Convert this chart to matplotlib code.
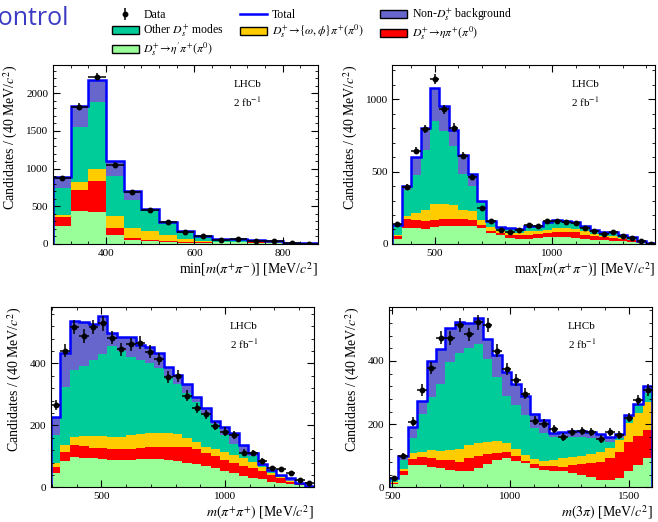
import numpy as np
import matplotlib
matplotlib.use('Agg')
import matplotlib.pyplot as plt
from matplotlib.patches import Patch
from matplotlib.lines import Line2D
from matplotlib.ticker import MultipleLocator

plt.rcParams['font.family'] = 'serif'
plt.rcParams['font.serif'] = ['Liberation Serif', 'DejaVu Serif']
plt.rcParams['mathtext.fontset'] = 'stix'

# colours
c_bkg = '#6666cc'
c_other = '#00cc99'
c_omphi = '#ffcc00'
c_eta = '#ff0000'
c_etap = '#99ff99'
c_total = '#0000ff'

# top left: min[m(pi+pi-)]
tl_edges = np.arange(280, 881, 40)
tl_data = [874, 1823, 2221, 1051, 693, 455, 287, 163, 102, 57, 71, 44, 35, 9, 5]
tl_total = [887, 1832, 2177, 1095, 698, 464, 287, 168, 100, 66, 70, 53, 44, 18, 9]
tl_other = [742, 1558, 1890, 896, 587, 440, 278, 160, 93, 60, 64, 48, 40, 15, 7]
tl_omphi = [388, 821, 998, 366, 212, 168, 115, 71, 35, 30, 30, 25, 20, 9, 4]
tl_eta = [353, 720, 839, 212, 80, 49, 35, 22, 20, 22, 24, 20, 16, 7, 3]
tl_etap = [234, 441, 424, 115, 57, 35, 26, 18, 18, 20, 22, 18, 15, 6, 2]

# top right: max[m(pi+pi-)]
tr_edges = np.arange(320, 1441, 40)
tr_data = [135, 392, 644, 794, 1138, 929, 803, 608, 461, 248, 156, 94, 80, 99,
           128, 122, 161, 161, 149, 144, 110, 92, 69, 80, 53, 41, 18, 2]
tr_total = [133, 401, 603, 803, 1073, 952, 787, 615, 484, 294, 161, 115, 108, 103,
            122, 126, 151, 167, 161, 154, 122, 99, 83, 80, 64, 46, 23, 7]
tr_other = [128, 374, 477, 649, 849, 780, 677, 482, 401, 282, 151, 110, 105, 99,
            115, 122, 144, 156, 156, 144, 110, 92, 76, 76, 57, 41, 18, 5]
tr_omphi = [64, 195, 213, 232, 275, 275, 266, 236, 225, 167, 115, 87, 76, 76,
            87, 92, 99, 110, 110, 105, 87, 71, 57, 53, 41, 30, 16, 5]
tr_eta = [53, 174, 167, 156, 167, 174, 174, 172, 167, 133, 92, 76, 60, 60,
          64, 71, 76, 80, 80, 80, 64, 53, 46, 41, 34, 25, 14, 5]
tr_etap = [37, 110, 110, 103, 115, 122, 122, 122, 122, 110, 76, 60, 41, 37,
           37, 41, 46, 46, 46, 41, 37, 30, 25, 23, 18, 14, 7, 2]

# bottom left: m(pi+pi+)
bl_edges = np.linspace(296, 1360, 29)
bl_data = [266, 440, 516, 488, 516, 529, 483, 445, 462, 467, 438, 414, 357, 359,
           296, 255, 235, 198, 180, 169, 112, 110, 86, 61, 58, 45, 24, 15]
bl_total = [226, 432, 537, 532, 526, 553, 499, 484, 484, 459, 452, 432, 389, 362,
            333, 292, 255, 215, 196, 174, 137, 110, 75, 56, 40, 29, 13, 4]
bl_other = [169, 325, 379, 391, 411, 430, 456, 440, 422, 411, 400, 385, 360, 335,
            305, 275, 240, 205, 170, 140, 115, 100, 70, 48, 35, 20, 13, 4]
bl_omphi = [77, 137, 163, 167, 167, 167, 163, 163, 169, 172, 174, 174, 176, 171,
            160, 147, 131, 123, 115, 104, 94, 83, 65, 46, 33, 20, 12, 4]
bl_eta = [67, 115, 137, 134, 128, 126, 124, 123, 124, 128, 131, 131, 131, 131,
          129, 123, 112, 102, 88, 80, 70, 61, 51, 40, 31, 18, 10, 4]
bl_etap = [47, 86, 99, 96, 94, 90, 88, 88, 88, 90, 91, 90, 88, 85,
           80, 75, 70, 61, 51, 45, 37, 31, 26, 18, 15, 10, 6, 3]

# bottom right: m(3pi)
br_edges = np.linspace(486, 1600, 29)
br_data = [28, 100, 208, 308, 377, 474, 472, 514, 484, 522, 514, 432, 374, 340,
           296, 211, 201, 185, 160, 176, 178, 176, 153, 176, 166, 221, 277, 308]
br_total = [28, 100, 192, 274, 401, 437, 506, 525, 519, 535, 469, 419, 366, 326,
            289, 231, 213, 173, 176, 178, 179, 176, 168, 160, 168, 229, 264, 321]
br_other = [25, 87, 155, 232, 287, 326, 398, 426, 440, 453, 406, 348, 289, 261,
            229, 187, 171, 160, 160, 160, 160, 157, 153, 145, 155, 224, 261, 300]
br_omphi = [17, 58, 108, 111, 118, 115, 118, 120, 134, 141, 145, 148, 139, 120,
            102, 90, 84, 88, 92, 97, 100, 106, 113, 123, 150, 203, 234, 271]
br_eta = [15, 50, 90, 97, 92, 87, 87, 81, 92, 100, 106, 110, 111, 100,
          83, 75, 68, 66, 65, 71, 73, 76, 81, 92, 113, 145, 164, 182]
br_etap = [11, 39, 71, 69, 63, 60, 55, 52, 50, 60, 74, 87, 94, 84,
           76, 62, 55, 50, 50, 46, 39, 34, 23, 23, 28, 50, 69, 92]

ylab = r'Candidates / (40 MeV/$c^2$)'


def panel(ax, edges, data, total, other, omphi, eta, etap, xlab, ymax,
          xmaj, xmin, ymaj, ymin):
    for top, col in [(total, c_bkg), (other, c_other), (omphi, c_omphi),
                     (eta, c_eta), (etap, c_etap)]:
        ax.stairs(top, edges, baseline=0, fill=True, color=col, lw=0)
    ax.stairs(total, edges, baseline=0, color=c_total, lw=1.8)
    data = np.array(data, dtype=float)
    ctr = 0.5 * (edges[1:] + edges[:-1])
    half = 0.5 * (edges[1:] - edges[:-1])
    ax.errorbar(ctr, data, xerr=half, yerr=np.sqrt(data), fmt='o', color='k',
                ms=3.2, elinewidth=1.1, capsize=0)
    ax.set_xlim(edges[0], edges[-1])
    ax.set_ylim(0, ymax)
    ax.xaxis.set_major_locator(MultipleLocator(xmaj))
    ax.xaxis.set_minor_locator(MultipleLocator(xmin))
    ax.yaxis.set_major_locator(MultipleLocator(ymaj))
    ax.yaxis.set_minor_locator(MultipleLocator(ymin))
    ax.tick_params(which='both', direction='in', top=True, right=True, labelsize=8)
    ax.tick_params(which='major', length=5)
    ax.tick_params(which='minor', length=2.5)
    ax.set_xlabel(xlab, loc='right', fontsize=10, labelpad=2)
    ax.set_ylabel(ylab, loc='top', fontsize=10, labelpad=4)
    ax.text(0.68, 0.89, 'LHCb', transform=ax.transAxes, fontsize=8, va='center')
    ax.text(0.68, 0.795, r'2 fb$^{-1}$', transform=ax.transAxes, fontsize=8, va='center')


fig = plt.figure(figsize=(6.58, 5.22), dpi=100)
ax_tl = fig.add_axes([0.0805, 0.5326, 0.4028, 0.3429])
ax_tr = fig.add_axes([0.5965, 0.5326, 0.3997, 0.3429])
ax_bl = fig.add_axes([0.0775, 0.0665, 0.3997, 0.3460])
ax_br = fig.add_axes([0.5912, 0.0665, 0.4001, 0.3460])

panel(ax_tl, tl_edges, tl_data, tl_total, tl_other, tl_omphi, tl_eta, tl_etap,
      r'min[$m(\pi^{+}\pi^{-})$] [MeV/$c^2$]', 2375, 200, 40, 500, 100)
panel(ax_tr, tr_edges, tr_data, tr_total, tr_other, tr_omphi, tr_eta, tr_etap,
      r'max[$m(\pi^{+}\pi^{-})$] [MeV/$c^2$]', 1235, 500, 100, 500, 100)
panel(ax_bl, bl_edges, bl_data, bl_total, bl_other, bl_omphi, bl_eta, bl_etap,
      r'$m(\pi^{+}\pi^{+})$ [MeV/$c^2$]', 583, 500, 100, 200, 40)
panel(ax_br, br_edges, br_data, br_total, br_other, br_omphi, br_eta, br_etap,
      r'$m(3\pi)$ [MeV/$c^2$]', 572, 500, 100, 200, 40)

# legend
h_data = ax_tl.errorbar([], [], yerr=[], fmt='o', color='k', ms=3.2,
                        elinewidth=1.1, capsize=0)
handles = [h_data,
           Patch(facecolor=c_other, edgecolor='k', lw=1),
           Patch(facecolor=c_etap, edgecolor='k', lw=1),
           Line2D([], [], color=c_total, lw=1.8),
           Patch(facecolor=c_omphi, edgecolor='k', lw=1),
           Patch(facecolor=c_bkg, edgecolor='k', lw=1),
           Patch(facecolor=c_eta, edgecolor='k', lw=1)]
labels = ['Data',
          r'Other $D_s^{+}$ modes',
          r"$D_s^{+}\!\rightarrow\!\eta'\pi^{+}(\pi^{0})$",
          'Total',
          r'$D_s^{+}\!\rightarrow\!\{\omega,\phi\}\pi^{+}(\pi^{0})$',
          r'Non-$D_s^{+}$ background',
          r'$D_s^{+}\!\rightarrow\!\eta\pi^{+}(\pi^{0})$']
fig.legend(handles, labels, ncol=3, loc='upper left', bbox_to_anchor=(0.166, 0.992),
           frameon=False, fontsize=8.5, handlelength=2.3, handleheight=0.7,
           handletextpad=0.4, columnspacing=1.35, labelspacing=0.12,
           borderpad=0.2, borderaxespad=0)

fig.text(-0.026, 0.952, 'Control', family='Open Sans', fontsize=18,
         color='#3b3bc4', va='baseline')

fig.savefig('out.png', dpi=100)
